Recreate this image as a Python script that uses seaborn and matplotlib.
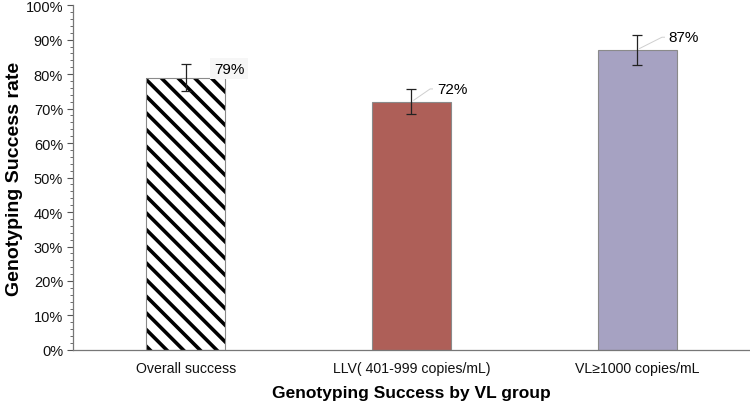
import pandas as pd
import numpy as np
import matplotlib.pyplot as plt
import seaborn as sns
from matplotlib.patches import Rectangle
from matplotlib.ticker import MultipleLocator, PercentFormatter

groups = ['Overall success', 'LLV( 401-999 copies/mL)', 'VL≥1000 copies/mL']
success = [79, 72, 87]
err = [4.0, 3.6, 4.3]
labels = ['79%', '72%', '87%']
colors = ['white', '#AE5F58', '#A6A2C2']

sns.set_theme(style='white')
plt.rcParams['font.family'] = ['Liberation Sans', 'DejaVu Sans']
plt.rcParams['hatch.linewidth'] = 2.6
plt.rcParams['text.color'] = 'black'
plt.rcParams['axes.labelcolor'] = 'black'
plt.rcParams['xtick.color'] = 'black'
plt.rcParams['ytick.color'] = 'black'

df = pd.DataFrame({'group': groups, 'success': success})

fig = plt.figure(figsize=(7.5, 4.1), dpi=100)
ax = fig.add_axes([0.097, 0.144, 0.903, 0.841])

sns.barplot(data=df, x='group', y='success', hue='group', palette=colors,
            saturation=1, width=0.35, edgecolor='#8a8a8a', linewidth=0.8,
            legend=False, ax=ax)

# hatch takes the edge colour, so draw the hatch in black and re-add a grey border
hb = ax.patches[0]
hb.set_hatch('\\\\')
hb.set_edgecolor('black')
hb.set_linewidth(0)
ax.add_patch(Rectangle(hb.get_xy(), hb.get_width(), hb.get_height(),
                       fill=False, edgecolor='#8a8a8a', linewidth=0.8, zorder=3))

x = np.arange(len(groups))
ax.errorbar(x, success, yerr=err, fmt='none', ecolor='#222222',
            elinewidth=0.9, capsize=3.5, capthick=0.9, zorder=4)

# value labels, the last two with leader lines
label_pos = [(0.125, 81.5), (1.113, 75.7), (2.14, 90.7)]
for i, (lab, (tx, ty)) in enumerate(zip(labels, label_pos)):
    if i > 0:
        ax.plot([x[i] + 0.01, tx - 0.03, tx - 0.005],
                [success[i] + 0.4, ty, ty], color='#cfcfcf', lw=0.7, zorder=3)
    ax.text(tx, ty, lab, fontsize=11, ha='left', va='center', color='black',
            bbox=dict(facecolor='#f6f6f6' if i == 0 else 'white',
                      edgecolor='none', pad=2.5), zorder=5)

ax.set_ylim(0, 100)
ax.set_xlim(-0.5, 2.5)
ax.yaxis.set_major_locator(MultipleLocator(10))
ax.yaxis.set_minor_locator(MultipleLocator(2))
ax.yaxis.set_major_formatter(PercentFormatter(decimals=0))
ax.tick_params(axis='y', which='major', left=True, length=4, width=0.8,
               color='#555555', labelcolor='#111111', labelsize=10.5, pad=3)
ax.tick_params(axis='y', which='minor', left=True, length=2, width=0.6,
               color='#555555')
ax.tick_params(axis='x', bottom=False, length=0, labelcolor='#111111',
               labelsize=10.2, pad=8)

sns.despine(ax=ax)
for side in ['left', 'bottom']:
    ax.spines[side].set_color('#777777')
    ax.spines[side].set_linewidth(0.9)

ax.set_xlabel('Genotyping Success by VL group', fontsize=12.5,
              fontweight='bold', labelpad=7)
ax.set_ylabel('Genotyping Success rate', fontsize=14, fontweight='bold',
              labelpad=2)

fig.savefig('out.png', dpi=100)
